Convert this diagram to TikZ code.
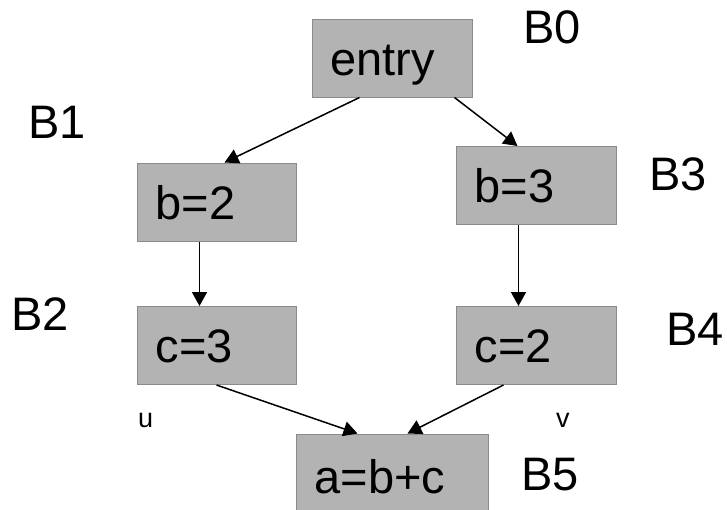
\documentclass[tikz,border=0pt]{standalone}
\usepackage{fontspec}
\setmainfont{Liberation Sans}
\usetikzlibrary{arrows.meta}
\definecolor{boxfill}{HTML}{B3B3B3}
\definecolor{boxline}{HTML}{8A8A8A}
\begin{document}
\begin{tikzpicture}[x=1pt,y=-1pt,
  blk/.style={draw=boxline,fill=boxfill,line width=1pt,rectangle,
    minimum height=78pt,inner xsep=18.5pt,inner ysep=0pt,
    text height=34pt,text depth=0pt,align=left,
    font=\fontsize{47}{50}\selectfont},
  lbl/.style={anchor=base west,inner sep=0pt,font=\fontsize{47}{50}\selectfont},
  small/.style={anchor=base west,inner sep=0pt,font=\fontsize{27}{30}\selectfont},
  edge/.style={line width=1.5pt,-{Triangle[length=14pt,width=15pt]}}]
\useasboundingbox (0,0) rectangle (727,509);
\node[blk,text width=123pt] (b0) at (392,58) {entry};
\node[blk,text width=122pt] (b1) at (216.5,202) {b=2};
\node[blk,text width=123pt] (b3) at (536,185.5) {b=3};
\node[blk,text width=122pt] (b2) at (216.5,345.5) {c=3};
\node[blk,text width=123pt] (b4) at (536,345.5) {c=2};
\node[blk,text width=155pt,minimum height=84pt] (b5) at (392,476) {a=b+c};
\node[lbl] (l0) at (523,43) {B0};
\node[lbl] (l1) at (28,138) {B1};
\node[lbl] (l3) at (649,190) {B3};
\node[lbl] (l2) at (11,330) {B2};
\node[lbl] (l4) at (666,345) {B4};
\node[lbl] (l5) at (521,490) {B5};
\node[small] (u) at (138,427) {u};
\node[small] (v) at (556,427) {v};
\draw[edge] ([xshift=48pt]b0.south west) -- ([xshift=88pt]b1.north west);
\draw[edge] ([xshift=143pt]b0.south west) -- ([xshift=62pt]b3.north west);
\draw[edge] ([xshift=63pt]b1.south west) -- ([xshift=63pt]b2.north west);
\draw[edge] ([xshift=63pt]b3.south west) -- ([xshift=63pt]b4.north west);
\draw[edge] ([xshift=80pt]b2.south west) -- ([xshift=62pt]b5.north west);
\draw[edge] ([xshift=48pt]b4.south west) -- ([xshift=112pt]b5.north west);
\end{tikzpicture}
\end{document}
